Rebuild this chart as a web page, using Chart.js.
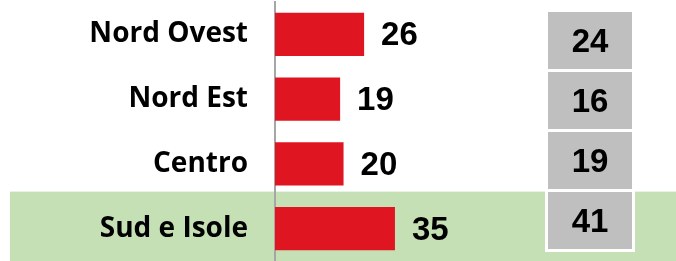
<!DOCTYPE html>
<html>
<head>
<meta charset="utf-8">
<script src="https://cdn.jsdelivr.net/npm/chart.js@4.4.1/dist/chart.umd.min.js"></script>
<style>
  html, body { margin: 0; padding: 0; background: #ffffff; }
  #wrap { width: 676px; height: 261px; position: relative; }
</style>
</head>
<body>
<div id="wrap"><canvas id="barChart"></canvas></div>
<script>
// ── Data ───────────────────────────────────────────
const areas = ['Nord Ovest', 'Nord Est', 'Centro', 'Sud e Isole'];
const currentValues = [26, 19, 20, 35];
const previousValues = [24, 16, 19, 41];
const highlightArea = 'Sud e Isole';

// ── Plugin: green band behind the highlighted row ──
const bandPlugin = {
  id: 'band',
  beforeDraw(chart) {
    const { ctx, scales: { y } } = chart;
    const idx = areas.indexOf(highlightArea);
    const top = y.getPixelForValue(idx) - 37;
    ctx.save();
    ctx.fillStyle = '#c5e0b4';
    ctx.fillRect(10, top, chart.width - 10, chart.height - top);
    ctx.restore();
  },
};

// ── Plugin: value labels + grey comparison boxes ──
const labelsPlugin = {
  id: 'valueLabels',
  afterDatasetsDraw(chart) {
    const { ctx } = chart;
    const meta = chart.getDatasetMeta(0);
    ctx.save();
    ctx.fillStyle = '#000000';
    ctx.font = "bold 33px 'Liberation Sans', Arial, sans-serif";
    ctx.textAlign = 'left';
    ctx.textBaseline = 'middle';
    meta.data.forEach((bar, i) => {
      ctx.fillText(String(currentValues[i]), bar.x + 17, bar.y + 2);
    });

    // grey boxes column
    const boxX = 548, boxW = 84, boxH = 57;
    previousValues.forEach((v, i) => {
      const top = 12 + i * 60;
      ctx.fillStyle = '#ffffff';
      ctx.fillRect(boxX - 3, top - 3, boxW + 6, boxH + 6);
      ctx.fillStyle = '#bfbfbf';
      ctx.fillRect(boxX, top, boxW, boxH);
      ctx.fillStyle = '#000000';
      ctx.textAlign = 'center';
      ctx.fillText(String(v), boxX + boxW / 2, top + boxH / 2 + 2);
    });
    ctx.restore();
  },
};

new Chart(document.getElementById('barChart'), {
  type: 'bar',
  data: {
    labels: areas,
    datasets: [
      {
        data: currentValues,
        backgroundColor: '#e01522',
        borderWidth: 0,
        barPercentage: 0.67,
        categoryPercentage: 1,
      },
    ],
  },
  options: {
    indexAxis: 'y',
    responsive: true,
    maintainAspectRatio: false,
    animation: false,
    layout: { autoPadding: false, padding: { top: 2, bottom: 0, left: 0, right: 0 } },
    plugins: {
      legend: { display: false },
      tooltip: { enabled: false },
    },
    scales: {
      x: {
        display: false,
        min: 0,
        max: 117,
      },
      y: {
        offset: true,
        afterFit: (scale) => {
          scale.width = 275;
          scale.paddingTop = 0;
          scale.paddingBottom = 0;
        },
        grid: { display: false, drawTicks: false },
        border: { display: true, color: '#a6a6a6', width: 2 },
        ticks: {
          color: '#000000',
          padding: 27,
          font: { family: "'Open Sans', Lato, sans-serif", size: 28, weight: 'bold' },
        },
      },
    },
  },
  plugins: [bandPlugin, labelsPlugin],
});
</script>
</body>
</html>
